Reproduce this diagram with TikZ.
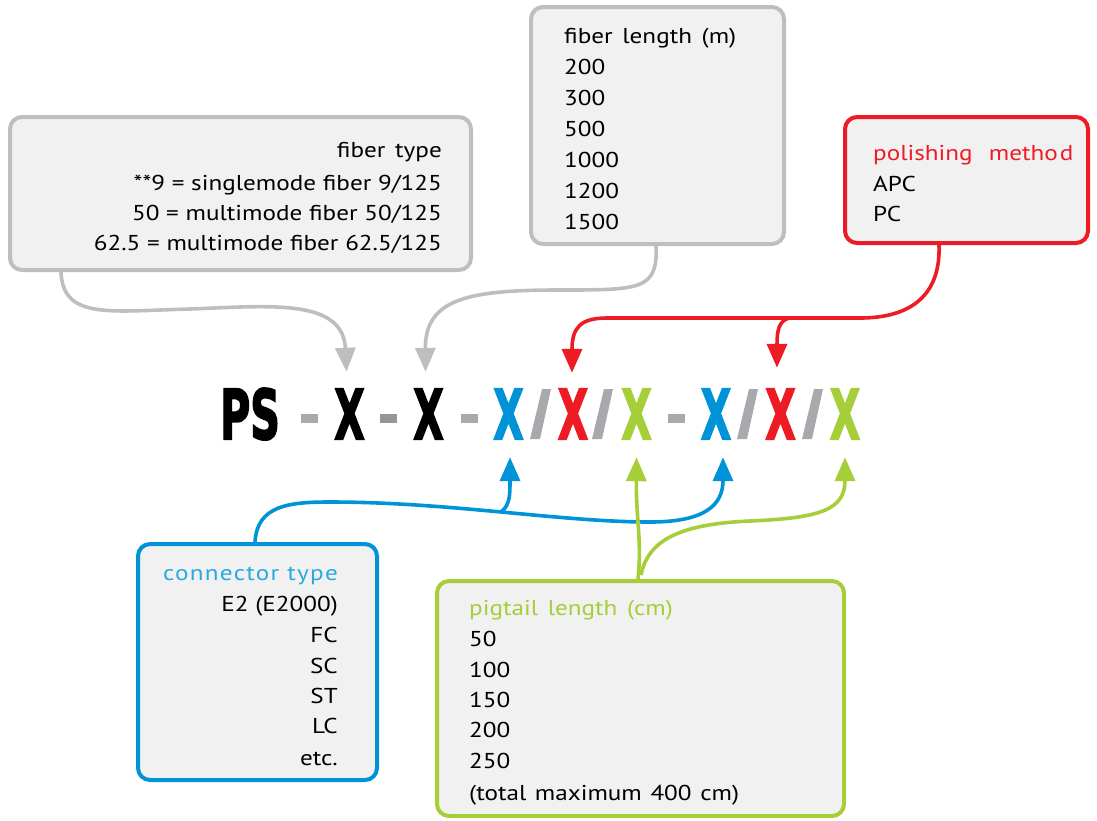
\documentclass[tikz,border=0pt]{standalone}
\usepackage{fontspec}
\setmainfont[FakeStretch=1.17]{PT Sans}
\newfontfamily\codefont[BoldFeatures={FakeBold=3}]{DejaVu Sans}
\usetikzlibrary{arrows.meta}
\definecolor{lgray}{HTML}{BCBEC0}
\definecolor{boxfill}{HTML}{F1F1F2}
\definecolor{pred}{HTML}{ED1C24}
\definecolor{pblue}{HTML}{0093D7}
\definecolor{tblue}{HTML}{27AAE1}
\definecolor{pgreen}{HTML}{A6CE39}
\definecolor{dgray}{HTML}{A7A9AC}
\definecolor{ddgray}{HTML}{939598}
\tikzset{
  box/.style={draw, line width=4pt, rounded corners=12pt, fill=boxfill, inner sep=0pt},
  txt/.style={font=\fontsize{21.5}{26}\selectfont, inner sep=0pt},
  code/.style={font=\codefont\bfseries\fontsize{68.6}{70}\selectfont, inner sep=0pt, anchor=base},
  conn/.style={line width=3.6pt, -{Triangle[width=20pt,length=24pt]}},
  dashbar/.style={inner sep=0pt, minimum width=17pt, minimum height=9pt, fill=dgray}
}
\begin{document}
\begin{tikzpicture}[x=1pt,y=-1pt]
\useasboundingbox (0,0) rectangle (1097,820);

% boxes
\node[box, draw=lgray, minimum width=461pt, minimum height=153pt] (ftype) at (240.5,193.5) {};
\node[box, draw=lgray, minimum width=253pt, minimum height=237pt] (flen) at (657.5,125.5) {};
\node[box, draw=pred, minimum width=243pt, minimum height=126pt] (polish) at (966.5,180) {};
\node[box, draw=pblue, minimum width=239pt, minimum height=236pt] (ctype) at (257.5,662) {};
\node[box, draw=pgreen, minimum width=407pt, minimum height=235pt] (pig) at (640.5,698.5) {};

% fiber type text
\node[txt, anchor=base east] (ft1) at (442,157) {fiber\hspace{0.45em}type};
\node[txt, anchor=base east] (ft2) at (442,190) {**9 = singlemode fiber 9/125};
\node[txt, anchor=base east] (ft3) at (442,220) {50 = multimode fiber 50/125};
\node[txt, anchor=base east] (ft4) at (442,250) {62.5 = multimode fiber 62.5/125};

% fiber length text
\node[txt, anchor=base west] (fl1) at (564,43) {fiber\hspace{0.45em}length\hspace{0.45em}(m)};
\node[txt, anchor=base west] (fl2) at (564,74) {200};
\node[txt, anchor=base west] (fl3) at (564,105) {300};
\node[txt, anchor=base west] (fl4) at (564,136) {500};
\node[txt, anchor=base west] (fl5) at (564,167) {1000};
\node[txt, anchor=base west] (fl6) at (564,198) {1200};
\node[txt, anchor=base west] (fl7) at (564,229) {1500};

% polishing text
\node[txt, anchor=base west, text=pred] (pm1) at (873,160) {polishing\hspace{0.75em}metho\hspace{0.1em}d};
\node[txt, anchor=base west] (pm2) at (873,191) {APC};
\node[txt, anchor=base west] (pm3) at (873,221) {PC};

% connector text
\node[txt, anchor=base east, text=tblue] (ct1) at (338,580) {\addfontfeature{LetterSpace=6}connector type};
\node[txt, anchor=base east] (ct2) at (338,611) {E2 (E2000)};
\node[txt, anchor=base east] (ct3) at (338,642) {FC};
\node[txt, anchor=base east] (ct4) at (338,673) {SC};
\node[txt, anchor=base east] (ct5) at (338,703) {ST};
\node[txt, anchor=base east] (ct6) at (338,733) {LC};
\node[txt, anchor=base east] (ct7) at (338,765) {etc.};

% pigtail text
\node[txt, anchor=base west, text=pgreen] (pg1) at (469,615) {pigtail\hspace{0.45em}length\hspace{0.45em}(cm)};
\node[txt, anchor=base west] (pg2) at (469,646) {50};
\node[txt, anchor=base west] (pg3) at (469,677) {100};
\node[txt, anchor=base west] (pg4) at (469,707) {150};
\node[txt, anchor=base west] (pg5) at (469,737) {200};
\node[txt, anchor=base west] (pg6) at (469,768) {250};
\node[txt, anchor=base west] (pg7) at (469,800) {(total\hspace{0.4em}maximum\hspace{0.4em}400\hspace{0.4em}cm)};

% code line
\node[code] (ps) at (250,439) {\scalebox{0.6}[1]{PS}};
\node[dashbar] (d1) at (309.5,418.5) {};
\node[code] (x1) at (349.5,439) {\scalebox{0.57}[1]{X}};
\node[dashbar, fill=ddgray] (d2) at (388.5,418.5) {};
\node[code] (x2) at (428.5,439) {\scalebox{0.57}[1]{X}};
\node[dashbar] (d3) at (469,418.5) {};
\node[code, text=pblue] (x3) at (508.5,439) {\scalebox{0.57}[1]{X}};
\node[code, text=pred] (x4) at (573,439) {\scalebox{0.57}[1]{X}};
\node[code, text=pgreen] (x5) at (636.5,439) {\scalebox{0.57}[1]{X}};
\node[dashbar] (d4) at (676.5,418.5) {};
\node[code, text=pblue] (x6) at (716,439) {\scalebox{0.57}[1]{X}};
\node[code, text=pred] (x7) at (780.5,439) {\scalebox{0.57}[1]{X}};
\node[code, text=pgreen] (x8) at (845,439) {\scalebox{0.57}[1]{X}};
\foreach \s in {530,592,737,802}
  \fill[dgray] (\s,439) -- (\s+10,439) -- (\s+21,389) -- (\s+12,389) -- cycle;

% gray connectors
\draw[conn, lgray] ([xshift=53pt]ftype.south west) .. controls (63,320) and (110,311) .. (190,309)
   .. controls (270,306) and (343,298) .. ([xshift=-3pt,yshift=17pt]x1.north);
\draw[conn, lgray] ([xshift=127pt]flen.south west) .. controls (658,290) and (640,290) .. (560,290)
   .. controls (470,290) and (425,298) .. ([xshift=-3pt,yshift=17pt]x2.north);

% red connectors
\draw[conn, pred] ([xshift=96pt]polish.south west) .. controls (941,300) and (905,318) .. (860,318)
   -- (607,318) .. controls (580,318) and (572,328) .. ([xshift=-1pt,yshift=16pt]x4.north);
\draw[conn, pred] (789,318) .. controls (779,321) and (777,330) .. ([xshift=-3.5pt,yshift=21pt]x7.north);

% blue connectors
\draw[conn, pblue] ([xshift=119pt]ctype.north west) .. controls (257,505) and (290,502) .. (330,502)
   .. controls (450,502) and (560,522) .. (650,522)
   .. controls (705,522) and (723,505) .. ([xshift=7pt,yshift=-18pt]x6.south);
\draw[conn, pblue] (501,512) .. controls (510,505) and (510,495) .. ([xshift=1.5pt,yshift=-18pt]x3.south);

% green connectors
\draw[conn, pgreen] ([xshift=203pt]pig.north west) .. controls (642,540) and (636,520) .. ([yshift=-18pt]x5.south);
\draw[conn, pgreen] (641,575) .. controls (648,540) and (680,524) .. (750,521)
   .. controls (820,518) and (845,510) .. ([yshift=-18pt]x8.south);
\end{tikzpicture}
\end{document}
